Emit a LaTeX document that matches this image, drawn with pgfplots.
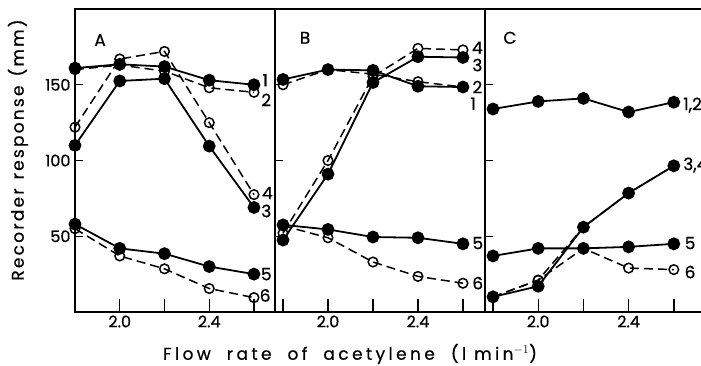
\documentclass[border=0pt]{standalone}
\usepackage{pgfplots}
\pgfplotsset{compat=1.18}
\usepackage{fontspec}
\setmainfont{Poppins}[FakeBold=0.6]
\newfontfamily\lblfont{Poppins}[LetterSpace=13.0, FakeBold=0.6]
\newfontfamily\xlblfont{Poppins}[LetterSpace=20.0, FakeBold=0.6]
\begin{document}
\begin{tikzpicture}
\pgfplotsset{
  panel/.style={
    scale only axis, height=303pt, ymin=0, ymax=200,
    axis line style={line width=1.7pt},
    tick style={line width=1.4pt, black},
    tick align=inside, xtick pos=bottom, ytick pos=left,
    major tick length=8pt, minor tick length=13pt,
    xtick={2.0,2.4},
    xticklabels={2.0,2.4},
    minor xtick={1.8,2.0,2.2,2.4,2.6},
    ytick={50,100,150},
    yticklabels={},
    ticklabel style={font=\fontsize{16}{16}\selectfont},
    clip=false,
  },
  fsty/.style={black, line width=1.8pt, mark=*, mark size=5.5pt, mark options={solid, fill=black}},
  osty/.style={black, line width=1.5pt, dash pattern=on 9pt off 5pt, mark=o, mark size=4.8pt, mark options={solid, fill=white, line width=1.5pt}},
}
\tikzset{lab/.style={font=\fontsize{17}{17}\selectfont, inner sep=0pt}}
\path[use as bounding box] (0,0) rectangle (701pt,-365pt);
% Panel A
\begin{axis}[panel, at={(75pt,-312pt)}, anchor=south west, width=200pt, xmin=1.8, xmax=2.694,
  yticklabels={50,100,150}, yticklabel style={xshift=-1pt}]
\addplot[osty] coordinates {(1.8,160) (2.0,163) (2.2,159) (2.4,148) (2.6,145)};
\addplot[osty] coordinates {(1.8,122) (2.0,167) (2.2,172) (2.4,125) (2.6,77.5)};
\addplot[osty] coordinates {(1.8,55) (2.0,37) (2.2,28.5) (2.4,15.5) (2.6,9.5)};
\addplot[fsty] coordinates {(1.8,161) (2.0,163.5) (2.2,162) (2.4,153) (2.6,150)};
\addplot[fsty] coordinates {(1.8,110) (2.0,152.5) (2.2,154) (2.4,109.5) (2.6,69)};
\addplot[fsty] coordinates {(1.8,58) (2.0,42) (2.2,38.5) (2.4,30) (2.6,25)};
\node[lab] at (axis cs:1.912,179.5) {A};
\node[lab] at (axis cs:2.65,153) {1};
\node[lab] at (axis cs:2.655,140) {2};
\node[lab] at (axis cs:2.66,78.5) {4};
\node[lab] at (axis cs:2.655,66.7) {3};
\node[lab] at (axis cs:2.655,25) {5};
\node[lab] at (axis cs:2.65,11) {6};
\end{axis}
% Panel B
\begin{axis}[panel, at={(275pt,-312pt)}, anchor=south west, width=210pt, xmin=1.7644, xmax=2.698]
\addplot[osty] coordinates {(1.8,150) (2.0,160) (2.2,157) (2.4,152) (2.6,148.5)};
\addplot[osty] coordinates {(1.8,52) (2.0,100) (2.2,155.5) (2.4,174) (2.6,173)};
\addplot[osty] coordinates {(1.8,57) (2.0,49) (2.2,33) (2.4,23.5) (2.6,19)};
\addplot[fsty] coordinates {(1.8,153.5) (2.0,160) (2.2,159.5) (2.4,149) (2.6,148.5)};
\addplot[fsty] coordinates {(1.8,47.5) (2.0,91) (2.2,151.5) (2.4,168.5) (2.6,168)};
\addplot[fsty] coordinates {(1.8,57.5) (2.0,54.5) (2.2,49.5) (2.4,49) (2.6,45)};
\node[lab] at (axis cs:1.898,181) {B};
\node[lab] at (axis cs:2.664,174.5) {4};
\node[lab] at (axis cs:2.664,163) {3};
\node[lab] at (axis cs:2.664,148.5) {2};
\node[lab] at (axis cs:2.645,137.5) {1};
\node[lab] at (axis cs:2.666,45.5) {5};
\node[lab] at (axis cs:2.666,19.1) {6};
\end{axis}
% Panel C
\begin{axis}[panel, at={(485pt,-312pt)}, anchor=south west, width=220pt, xmin=1.7646, xmax=2.738]
\addplot[osty] coordinates {(1.8,10) (2.0,21) (2.2,56) (2.4,78.5) (2.6,96.5)};
\addplot[osty] coordinates {(1.8,10) (2.0,21) (2.2,42) (2.4,29) (2.6,28)};
\addplot[fsty] coordinates {(1.8,134) (2.0,139) (2.2,141) (2.4,132) (2.6,138.5)};
\addplot[fsty] coordinates {(1.8,10) (2.0,17) (2.2,56) (2.4,78.5) (2.6,96.5)};
\addplot[fsty] coordinates {(1.8,37) (2.0,42) (2.2,42) (2.4,43) (2.6,45)};
\node[lab] at (axis cs:1.875,181) {C};
\node[lab, anchor=west] at (axis cs:2.641,136.6) {1,2};
\node[lab, anchor=west] at (axis cs:2.641,97) {3,4};
\node[lab] at (axis cs:2.672,45.5) {5};
\node[lab] at (axis cs:2.672,26.4) {6};
\end{axis}
\node[rotate=90, inner sep=0pt, font=\lblfont\fontsize{17}{17}\selectfont] at (18pt,-150pt) {Recorder\hspace{9pt}response\hspace{9pt}(mm)};
\node[inner sep=0pt, font=\xlblfont\fontsize{17}{17}\selectfont] at (350pt,-354pt) {Flow\hspace{16pt}rate\hspace{16pt}of\hspace{16pt}acetylene\hspace{16pt}(l\hspace{8pt}min$^{-1}$)};
\end{tikzpicture}
\end{document}
